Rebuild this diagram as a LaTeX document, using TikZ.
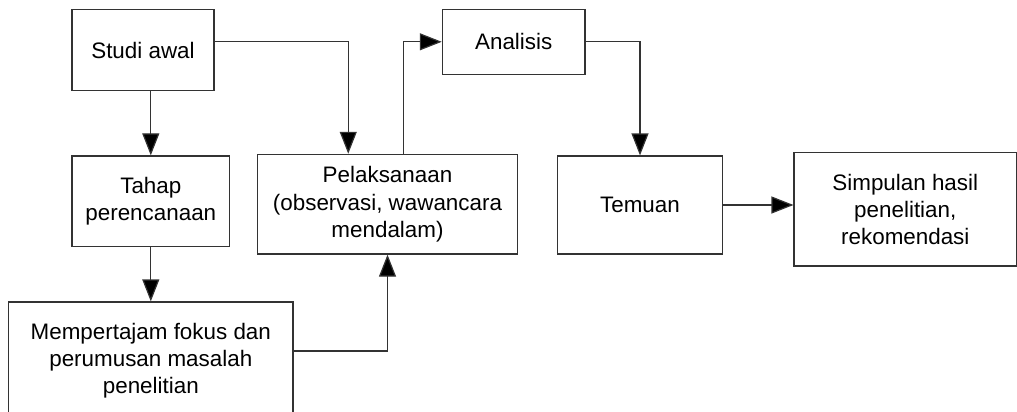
\documentclass[tikz,border=0pt]{standalone}
\usepackage{fontspec}
\setmainfont{Liberation Sans}
\usetikzlibrary{arrows.meta,calc}

\begin{document}
\begin{tikzpicture}[x=0.5pt, y=-0.5pt,
  box/.style={draw=black!80, line width=0.6pt, align=center, inner sep=2pt, font=\fontsize{11.2}{13.6}\selectfont},
  arr/.style={-{Triangle[length=11pt, width=8.5pt, fill=black]}, line width=0.6pt, black!80}
]
  \useasboundingbox (0,0) rectangle (1017,412);

  \node[box, minimum width=71pt, minimum height=40.7pt] (studi) at (143,50) {Studi awal};
  \node[box, minimum width=78.85pt, minimum height=45.35pt] (tahap) at (150.8,201.3) {Tahap\\perencanaan};
  \node[box, minimum width=142.15pt, minimum height=59pt] (fokus) at (150.8,361) {Mempertajam fokus dan\\perumusan masalah\\penelitian};
  \node[box, minimum width=130.2pt, minimum height=49.85pt] (pelaks) at (387.5,204.2) {Pelaksanaan\\(observasi, wawancara\\mendalam)};
  \node[box, minimum width=71.35pt, minimum height=32.5pt] (analisis) at (513.7,41.8) {Analisis};
  \node[box, minimum width=82.7pt, minimum height=49pt] (temuan) at (640,205) {Temuan};
  \node[box, minimum width=111.25pt, minimum height=56.65pt] (simpulan) at (905.3,209.3) {Simpulan hasil\\penelitian,\\rekomendasi};

  \draw[arr] (studi.south -| tahap.north) -- (tahap.north);
  \draw[arr] (studi.east |- analisis.west) -| ($(pelaks.north west)!0.35!(pelaks.north east)$);
  \draw[arr] (tahap.south) -- (fokus.north);
  \draw[arr] ([yshift=5pt]fokus.east) -| (pelaks.south);
  \draw[arr] ([xshift=7.9pt]pelaks.north) |- (analisis.west);
  \draw[arr] (analisis.east) -| (temuan.north);
  \draw[arr] (temuan.east) -- (temuan.east -| simpulan.west);
\end{tikzpicture}
\end{document}
